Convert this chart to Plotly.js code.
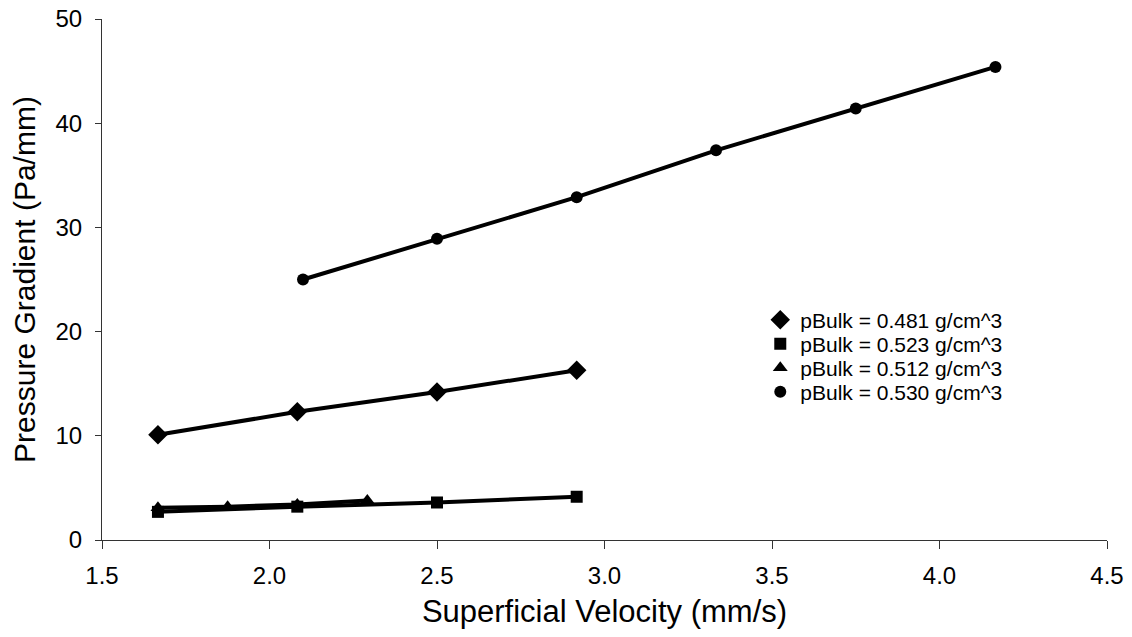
<!DOCTYPE html>
<html><head><meta charset="utf-8">
<script src="https://cdn.plot.ly/plotly-3.0.1.min.js"></script>
<style>html,body{margin:0;padding:0;background:#fff}#chart{width:1132px;height:637px}</style>
</head><body><div id="chart"></div>
<script>
const names = ["pBulk = 0.481 g/cm^3","pBulk = 0.523 g/cm^3","pBulk = 0.512 g/cm^3","pBulk = 0.530 g/cm^3"];
const symbols = ["diamond","square","triangle-up","circle"];
const x481 = [1.667, 2.083, 2.5, 2.917];
const y481 = [10.1, 12.3, 14.2, 16.3];
const x523 = [1.667, 2.083, 2.5, 2.917];
const y523 = [2.7, 3.2, 3.6, 4.15];
const x512 = [1.667, 1.875, 2.083, 2.292];
const y512 = [3.1, 3.2, 3.4, 3.8];
const x530 = [2.1, 2.5, 2.917, 3.333, 3.75, 4.167];
const y530 = [25.0, 28.9, 32.9, 37.4, 41.4, 45.4];
const xs = [x481, x523, x512, x530];
const ys = [y481, y523, y512, y530];
const msize = [15, 12, 13, 12];
const legendIds = ['legend', 'legend2', 'legend3', 'legend4'];
const traces = [];
for (let i = 0; i < 4; i++) {
  traces.push({x: xs[i], y: ys[i], mode: 'lines', line: {color: '#000', width: 4}, showlegend: false, hoverinfo: 'skip'});
}
for (let i = 0; i < 4; i++) {
  traces.push({x: xs[i], y: ys[i], mode: 'markers', name: names[i], legend: legendIds[i],
    marker: {symbol: symbols[i], color: '#000', size: msize[i]}});
}
const rowY = [0.4223, 0.3762, 0.3301, 0.2841];
const layout = {
  width: 1132, height: 637,
  margin: {l: 102, r: 25, t: 19, b: 97},
  paper_bgcolor: '#fff', plot_bgcolor: '#fff',
  font: {family: 'Liberation Sans, Arial, sans-serif', color: '#000'},
  showlegend: true,
  xaxis: {range: [1.5, 4.5], dtick: 0.5, tick0: 1.5, tickformat: '.1f', showgrid: false, zeroline: false,
    showline: true, linecolor: '#333', linewidth: 1, ticks: 'outside', ticklen: 8, tickcolor: '#333',
    tickfont: {size: 24, color: '#000'}, ticklabelstandoff: 6,
    title: {text: 'Superficial Velocity (mm/s)', font: {size: 31, color: '#000'}, standoff: 12}},
  yaxis: {range: [0, 50], dtick: 10, showgrid: false, zeroline: false,
    showline: true, linecolor: '#333', linewidth: 1, ticks: 'outside', ticklen: 6, tickcolor: '#333',
    tickfont: {size: 24, color: '#000'}, ticklabelstandoff: 8,
    title: {text: 'Pressure Gradient (Pa/mm)', font: {size: 30, color: '#000'}, standoff: 10}}
};
for (let i = 0; i < 4; i++) {
  layout[legendIds[i]] = {x: 0.655, y: rowY[i], xanchor: 'left', yanchor: 'middle', bgcolor: 'rgba(0,0,0,0)',
    font: {size: 21, color: '#000'}, itemsizing: 'trace', borderwidth: 0};
}
Plotly.newPlot('chart', traces, layout, {displayModeBar: false, staticPlot: true});
</script></body></html>
